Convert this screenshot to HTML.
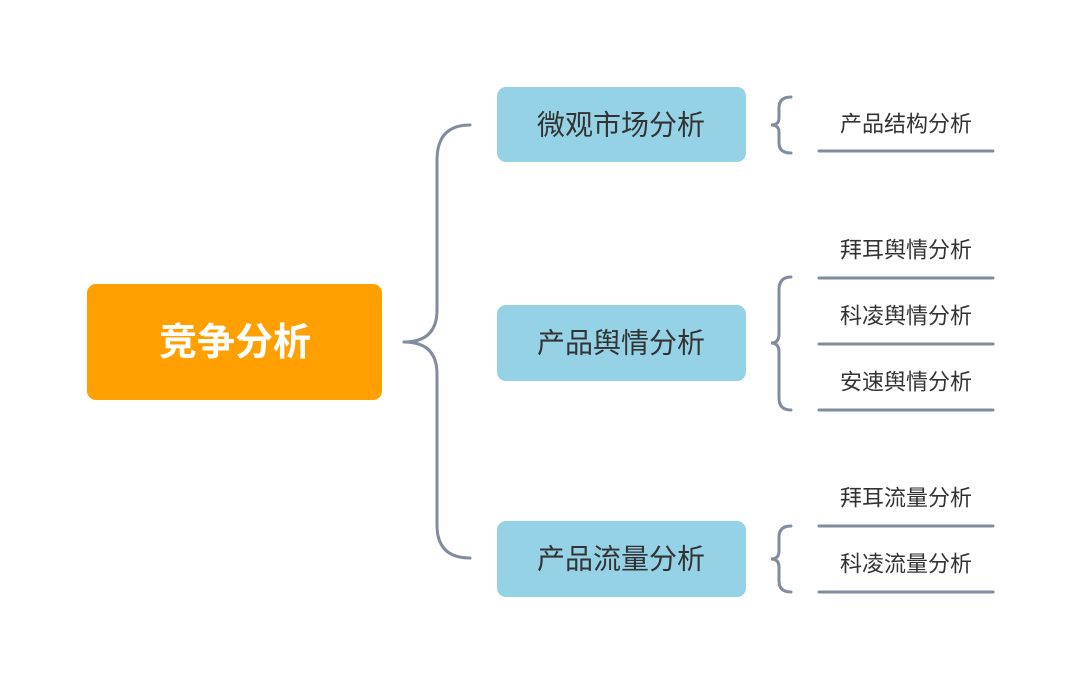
<!DOCTYPE html>
<html><head><meta charset="utf-8"><style>
html,body{margin:0;padding:0;background:#fff;}
svg text{font-family:"Liberation Sans","Noto Sans CJK SC",sans-serif;}
</style></head><body>
<svg width="1080" height="684" viewBox="0 0 1080 684" xmlns="http://www.w3.org/2000/svg">
<rect width="1080" height="684" fill="#fff"/>
<rect x="87" y="284" width="295" height="116" rx="9" fill="#FFA000"/>
<text x="235" y="343" fill="#fff" font-size="38" font-weight="bold" text-anchor="middle" dominant-baseline="central">竞争分析</text>
<g fill="none" stroke="#828C9E" stroke-width="3" stroke-linecap="round">
<path d="M404 342 Q437 342 437 310 L437 160 Q437 125 470 125"/>
<path d="M404 342 Q437 342 437 374 L437 525 Q437 558 470 558"/>
<path d="M791 97 Q779 97 779 108 L779 118 Q779 125 771 125 Q779 125 779 132 L779 143 Q779 153 791 153"/>
<path d="M791 277 Q779 277 779 290 L779 334 Q779 343 771 343 Q779 343 779 352 L779 398 Q779 410 791 410"/>
<path d="M791 526 Q779 526 779 537 L779 551 Q779 559 771 559 Q779 559 779 567 L779 581 Q779 592 791 592"/>
<path d="M819 151 H993 M819 278 H993 M819 344 H993 M819 410 H993 M819 526 H993 M819 592 H993"/>
</g>
<g fill="#96D2E6">
<rect x="497" y="87" width="249" height="75" rx="9"/>
<rect x="497" y="305" width="249" height="76" rx="9"/>
<rect x="497" y="521" width="249" height="76" rx="9"/>
</g>
<g fill="#333" font-size="28" text-anchor="middle" dominant-baseline="central">
<text x="621" y="125">微观市场分析</text>
<text x="621" y="343">产品舆情分析</text>
<text x="621" y="559">产品流量分析</text>
</g>
<g fill="#333" font-size="22" text-anchor="middle" dominant-baseline="central">
<text x="906" y="124">产品结构分析</text>
<text x="906" y="250">拜耳舆情分析</text>
<text x="906" y="316">科凌舆情分析</text>
<text x="906" y="382">安速舆情分析</text>
<text x="906" y="498">拜耳流量分析</text>
<text x="906" y="564">科凌流量分析</text>
</g>
</svg>
</body></html>
